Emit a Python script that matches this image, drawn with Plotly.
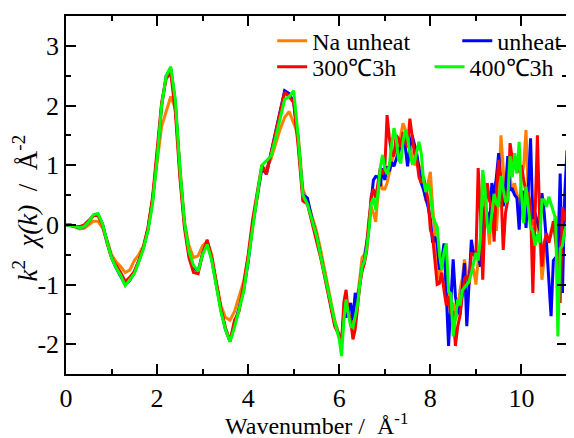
import numpy as np
import plotly.graph_objects as go

# k grids (Å^-1)
k_low = np.round(np.arange(0.0, 5.95, 0.1), 2)      # 0.0 .. 5.9
k_high = np.round(np.arange(6.0, 11.0001, 0.05), 2)  # 6.00 .. 11.00
k = np.concatenate([k_low, k_high])

# ---- series values: k^2 chi(k) ----
na_unheat_low = [0.00, -0.01, -0.04, -0.07, -0.06, 0.00, 0.06, 0.06, -0.05, -0.25,
                 -0.50, -0.62, -0.70, -0.80, -0.76, -0.60, -0.50, -0.35, -0.05, 0.45,
                 1.10, 1.65, 1.90, 2.15, 1.95, 0.95, 0.05, -0.35, -0.55, -0.52,
                 -0.35, -0.28, -0.50, -0.95, -1.35, -1.55, -1.60, -1.45, -1.20, -0.95,
                 -0.55, 0.00, 0.45, 0.95, 0.95, 1.10, 1.35, 1.60, 1.80, 1.90,
                 1.70, 1.50, 0.60, 0.40, 0.15, -0.10, -0.45, -0.85, -1.25, -1.60]
na_unheat_high = [-1.85, -2.00, -1.50, -1.30, -1.45, -1.55, -1.65, -1.35, -1.20, -0.90,
                  -0.55, -0.50, -0.30, 0.10, 0.30, 0.20, 0.05, 0.50, 0.75, 0.60,
                  0.60, 0.70, 0.90, 1.05, 1.20, 1.30, 1.10, 1.50, 1.70, 1.60,
                  1.35, 1.30, 1.15, 1.00, 1.05, 1.00, 0.85, 0.60, 0.40, 0.70,
                  0.89, 0.30, -0.20, -0.60, -0.90, -0.75, -0.55, -0.80, -1.10, -1.60,
                  -1.30, -1.60, -1.45, -1.10, -0.90, -0.58, -0.85, -0.80, -0.70, -0.75,
                  -1.00, -0.60, -0.30, 0.40, 0.50, 0.10, -0.33, 0.50, 0.60, -0.10,
                  0.55, 1.50, 0.90, 0.40, 0.70, 0.80, 0.55, 0.70, 0.50, 0.30,
                  0.80, 1.00, 1.59, 0.50, 0.30, 0.00, 0.05, -0.10, -0.20, -0.92,
                  -0.50, -0.20, -0.30, -0.10, 0.00, 0.15, -0.20, -0.40, -0.10, 0.05,
                  -0.20]

unheat_low = [0.00, -0.01, -0.03, -0.05, -0.03, 0.05, 0.16, 0.18, 0.02, -0.28,
              -0.55, -0.72, -0.86, -1.00, -0.93, -0.80, -0.60, -0.38, -0.08, 0.40,
              1.15, 2.00, 2.50, 2.62, 2.05, 0.90, 0.02, -0.48, -0.72, -0.78,
              -0.48, -0.28, -0.58, -1.02, -1.42, -1.75, -1.95, -1.68, -1.38, -1.10,
              -0.62, 0.00, 0.50, 0.95, 0.85, 1.20, 1.50, 1.90, 2.25, 2.20,
              2.05, 1.40, 0.50, 0.45, 0.10, -0.18, -0.55, -0.92, -1.32, -1.66]
unheat_high = [-1.87, -1.95, -1.50, -1.55, -1.45, -1.31, -1.60, -1.14, -1.30, -1.00,
               -0.72, -0.60, -0.35, -0.05, 0.40, 0.75, 0.81, 0.80, 0.65, 0.95,
               0.75, 0.98, 0.90, 1.05, 0.98, 1.10, 1.20, 1.35, 1.45, 1.30,
               0.98, 1.30, 1.50, 1.35, 1.20, 0.95, 0.70, 0.59, 0.45, 0.30,
               0.10, -0.30, -0.20, -0.31, -0.75, -0.60, -0.31, -1.20, -2.03, -1.30,
               -0.58, -1.20, -1.42, -1.50, -1.10, -0.64, -1.70, -1.00, -0.25, -0.50,
               -0.45, -0.50, -0.70, -0.20, 0.30, 0.20, -0.10, 0.70, 0.50, 0.80,
               1.20, 0.70, 0.31, 0.60, 1.15, 0.59, 0.60, 0.50, 0.45, -0.08,
               0.55, 0.55, -0.05, 0.60, 1.45, 0.10, 0.20, 0.05, -0.10, 0.53,
               0.20, -0.30, -1.00, -1.53, -0.60, -0.55, -0.50, 0.86, -1.14, 0.50,
               1.25]

h300_low = [0.00, 0.00, -0.03, -0.03, 0.00, 0.08, 0.15, 0.16, 0.00, -0.30,
            -0.55, -0.68, -0.80, -0.95, -0.88, -0.78, -0.60, -0.38, -0.05, 0.45,
            1.20, 2.05, 2.45, 2.55, 1.90, 0.80, -0.05, -0.55, -0.80, -0.82,
            -0.48, -0.25, -0.55, -1.00, -1.40, -1.72, -1.95, -1.60, -1.45, -1.00,
            -0.50, 0.10, 0.55, 1.00, 0.85, 1.20, 1.50, 1.85, 2.22, 2.15,
            2.05, 1.30, 0.40, 0.35, 0.05, -0.25, -0.58, -0.95, -1.35, -1.70]
h300_high = [-1.85, -2.00, -1.30, -1.09, -1.50, -1.60, -1.92, -1.75, -1.40, -1.00,
             -0.78, -0.65, -0.45, -0.05, 0.47, 0.60, 0.45, 0.70, 0.95, 0.85,
             0.95, 1.84, 1.45, 1.20, 1.15, 1.50, 1.45, 1.30, 1.55, 1.40,
             1.30, 1.78, 1.50, 1.20, 1.10, 0.80, 0.70, 0.80, 0.60, 0.42,
             -0.08, -0.20, -0.60, -1.00, -0.98, -0.80, -1.10, -1.35, -1.20, -1.50,
             -1.45, -2.03, -1.70, -1.53, -1.20, -0.90, -0.85, -1.00, -0.47, -0.50,
             -0.55, 0.95, 0.20, -0.92, 0.20, 0.70, 0.40, 0.30, -0.28, 0.60,
             1.09, 0.60, -0.42, 0.20, 0.42, 1.37, 1.10, 1.00, 0.90, 0.90,
             1.00, 0.75, 0.55, 0.53, 0.30, -1.14, 0.30, 1.50, 0.10, -0.70,
             -0.30, -0.14, -0.30, -0.15, 0.06, -0.30, -0.60, -1.31, 0.30, 0.10,
             0.05]

h400_low = [0.00, -0.01, -0.03, -0.05, -0.03, 0.05, 0.17, 0.19, 0.02, -0.28,
            -0.55, -0.72, -0.85, -1.02, -0.92, -0.82, -0.62, -0.40, -0.10, 0.35,
            1.10, 2.00, 2.50, 2.65, 2.10, 0.95, 0.05, -0.45, -0.68, -0.78,
            -0.50, -0.33, -0.60, -1.05, -1.45, -1.75, -1.96, -1.72, -1.40, -1.12,
            -0.60, 0.00, 0.50, 1.00, 1.07, 1.15, 1.45, 1.75, 2.10, 2.15,
            2.25, 1.45, 0.50, 0.35, 0.10, -0.18, -0.55, -0.92, -1.30, -1.62]
h400_high = [-1.92, -2.20, -1.60, -1.25, -1.50, -1.70, -1.72, -1.50, -1.35, -1.00,
             -0.70, -0.62, -0.40, -0.10, 0.35, 0.45, 0.25, 0.55, 0.95, 1.17,
             0.95, 0.85, 1.00, 1.35, 1.62, 1.45, 1.10, 1.03, 1.40, 1.60,
             1.45, 1.20, 1.03, 1.05, 1.20, 1.39, 1.20, 0.75, 0.55, 0.70,
             0.55, 0.15, 0.05, -0.03, -0.50, -0.75, -0.45, -0.31, -1.12, -1.15,
             -1.87, -1.60, -1.25, -1.35, -1.10, -1.05, -1.00, -0.95, -0.81, -0.62,
             -0.47, -0.60, -0.20, 0.92, 0.60, 0.00, -0.14, 0.20, 0.52, 0.35,
             0.30, 0.82, 0.60, 0.38, 0.42, 1.15, 0.80, 1.20, 0.86, 1.39,
             0.50, 0.03, 0.64, 0.25, -0.05, -0.10, -0.35, -0.16, -0.30, 0.42,
             0.42, 0.30, 0.47, 0.35, 0.20, 0.10, -1.87, -0.40, -0.35, -0.10,
             0.03]

series_names = ["Na unheat", "unheat", "300℃3h", "400℃3h"]
series_colors = ["#FF8000", "#0000FF", "#FF0000", "#00FF00"]
series_values = [na_unheat_low + na_unheat_high,
                 unheat_low + unheat_high,
                 h300_low + h300_high,
                 h400_low + h400_high]

x_tick_vals = [0, 2, 4, 6, 8, 10]
x_tick_text = ["0", "2", "4", "6", "8", "10"]
y_tick_vals = [-2, -1, 0, 1, 2, 3]
y_tick_text = ["-2", "-1", "0", "1", "2", "3"]

FONT = "Liberation Serif, Times New Roman, serif"
legend_ids = ["legend", "legend2", "legend3", "legend4"]
legend_pos = [(0.4115, 0.93), (0.781, 0.93), (0.4115, 0.857), (0.7256, 0.857)]

fig = go.Figure()
for name, color, vals, lid in zip(series_names, series_colors, series_values, legend_ids):
    fig.add_trace(go.Scatter(x=k, y=vals, mode="lines", name=name,
                             line=dict(color=color, width=3), legend=lid))

axis_common = dict(showline=True, linecolor="black", linewidth=1.5, mirror="allticks",
                   ticks="inside", ticklen=10, tickwidth=1.5, tickcolor="black",
                   showgrid=False, zeroline=False,
                   tickfont=dict(family=FONT, size=26, color="black"))

fig.update_xaxes(range=[0, 11], tickvals=x_tick_vals, ticktext=x_tick_text,
                 minor=dict(dtick=1, ticks="inside", ticklen=5, tickwidth=1.5, tickcolor="black", showgrid=False),
                 **axis_common)
fig.update_yaxes(range=[-2.5, 3.5], tickvals=y_tick_vals, ticktext=y_tick_text,
                 minor=dict(dtick=0.5, ticks="inside", ticklen=5, tickwidth=1.5, tickcolor="black", showgrid=False),
                 **axis_common)

legend_layout = {}
for lid, (lx, ly) in zip(legend_ids, legend_pos):
    legend_layout[lid] = dict(x=lx, y=ly, xanchor="left", yanchor="middle",
                              bgcolor="rgba(0,0,0,0)", borderwidth=0,
                              font=dict(family=FONT, size=24, color="black"))

# the page body adds an 8px offset, so the figure is sized for the remaining window
fig.update_layout(
    width=566, height=430,
    margin=dict(l=58, r=5, t=8, b=64),
    plot_bgcolor="white", paper_bgcolor="white",
    font=dict(family=FONT, color="black"),
    showlegend=True,
    **legend_layout,
    annotations=[
        dict(text="Wavenumber /  Å<sup>-1</sup>", xref="paper", yref="paper",
             x=0.5, y=-0.14, xanchor="center", yanchor="middle", showarrow=False,
             font=dict(family=FONT, size=24, color="black")),
        dict(text="<i>k</i><sup>2</sup>  <i>χ(k)</i>  /  Å<sup>-2</sup>", xref="paper", yref="paper",
             x=-0.082, y=0.465, xanchor="center", yanchor="middle", textangle=-90, showarrow=False,
             font=dict(family=FONT, size=27, color="black")),
    ],
)

fig.write_html("out.html")
